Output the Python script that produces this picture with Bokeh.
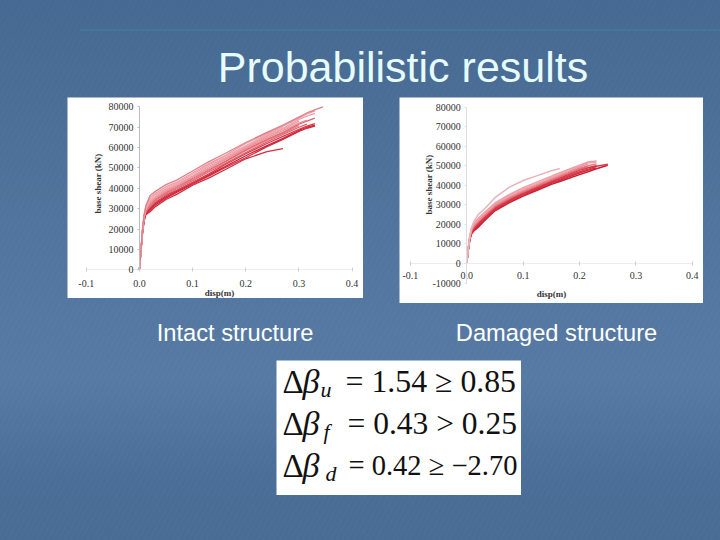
from bokeh.embed import file_html
from bokeh.resources import INLINE
from bokeh.plotting import figure
from bokeh.layouts import column, row, Spacer
from bokeh.models import LinearAxis, FixedTicker, Label, BoxAnnotation, Range1d

slide_title = "Probabilistic results"
caption_left = "Intact structure"
caption_right = "Damaged structure"
x_ticks = [-0.1, 0.0, 0.1, 0.2, 0.3, 0.4]
x_tick_labels = ["-0.1", "0.0", "0.1", "0.2", "0.3", "0.4"]
y_ticks_intact = [0, 10000, 20000, 30000, 40000, 50000, 60000, 70000, 80000]
y_ticks_damaged = [-10000, 0, 10000, 20000, 30000, 40000, 50000, 60000, 70000, 80000]

intact_disp = [0, .003, .006, .009, .012, .02, .03, .05, .07, .1, .13, .16, .2, .24, .27, .3, .315, .33, .345]
intact_curves = [
    [0, 9500, 18500, 24000, 27000, 28500, 31000, 34500, 37000, 41500, 45000, 49000, 54500, 58000, 59500],
    [0, 9500, 18800, 24500, 27500, 29200, 31800, 35200, 38000, 42000, 46000, 50000, 55000, 60500, 64000, 68000, 69500, 70500],
    [0, 9700, 19000, 24800, 28000, 29800, 32500, 35800, 38500, 42500, 46500, 50500, 56000, 61000, 64500, 68500, 70000, 71000],
    [0, 9800, 19200, 25000, 28200, 30500, 33000, 36500, 39000, 43000, 47000, 51500, 57000, 62000, 65500, 69000, 70500, 71800],
    [0, 9800, 19400, 25200, 28500, 31000, 33500, 37000, 39800, 43800, 48000, 52000, 57500, 62800, 66500, 70000, 71500],
    [0, 9900, 19500, 25500, 28800, 31500, 34000, 37500, 40200, 44200, 48500, 52800, 58500, 63500, 67000, 70800],
    [0, 9900, 19600, 25800, 29000, 32000, 34500, 38000, 40800, 44800, 49000, 53000, 59000, 64000, 67500, 71500, 73000, 74500],
    [0, 10000, 19800, 26000, 29300, 32800, 35000, 38500, 41000, 45300, 49500, 53800, 59500, 64800, 68300, 72000, 73500],
    [0, 10000, 20000, 26300, 29500, 33200, 35500, 39000, 41500, 45800, 50000, 54200, 60000, 65500, 69000, 73000],
    [0, 10100, 20200, 26500, 30000, 33800, 36000, 39500, 42000, 46000, 50800, 54800, 60500, 66000, 69500, 73800, 75500, 76800],
    [0, 10200, 20400, 26800, 30300, 34500, 36800, 40000, 42500, 46800, 51500, 55500, 61000, 66500, 70000],
    [0, 10200, 20600, 27000, 30800, 35500, 37500, 40800, 43000, 47500, 52000, 56000, 62000, 67000, 70500, 74500, 76500, 78000],
    [0, 10300, 20800, 27500, 31500, 36500, 38500, 41800, 44000, 48500, 53000, 57000, 62500, 67500, 71000, 75000, 77000, 78500, 80000],
]
intact_colors = ["#d0303f", "#d22a3c", "#c8283a", "#d83a4a", "#e0606c", "#e8808a", "#e06570", "#eb8f98",
                 "#ec969d", "#ee9fa5", "#f0a8ae", "#ec9ca3", "#dd8089"]

damaged_disp = [0, .002, .005, .008, .012, .02, .03, .05, .075, .1, .125, .15, .165, .18, .2, .215, .23, .25]
damaged_curves = [
    [0, 5500, 11500, 15000, 16500, 18500, 21500, 27000, 31000, 34500, 37500, 40500, 42000, 43500, 45500, 47000, 48500, 50300],
    [0, 5600, 11800, 15300, 17000, 19200, 22200, 27500, 31500, 35000, 38000, 41000, 42600, 44200, 46300, 47800, 49000],
    [0, 5700, 12000, 15600, 17500, 19800, 22800, 28000, 32000, 35500, 38500, 41500, 43200, 44800, 47000, 48200, 49800, 50800],
    [0, 5800, 12200, 16000, 18000, 20400, 23300, 28500, 32500, 36000, 39000, 42000, 43800, 45500, 47800, 49000, 50000],
    [0, 5900, 12400, 16300, 18500, 21000, 23800, 29000, 33000, 36500, 39500, 42500, 44200, 46000, 48200, 49500],
    [0, 6000, 12600, 16600, 19000, 21500, 24300, 29500, 33600, 37000, 40000, 43000, 44800, 46500, 48800, 50000, 51000],
    [0, 6000, 12800, 17000, 19500, 22000, 24800, 30000, 34000, 37500, 40500, 43500, 45300, 47000, 49500, 51000],
    [0, 6100, 13000, 17300, 20000, 22500, 25300, 30500, 34600, 38000, 41000, 44000, 45800, 47800, 50000, 51500, 52000],
    [0, 6200, 13300, 17600, 20400, 23000, 25800, 31000, 35200, 38800, 41800, 44700, 46500, 48200, 50300, 52000, 52500],
    [0, 6300, 13500, 18000, 21000, 25000, 27500, 33700, 39000, 42500, 45000, 47500, 48600],
]
damaged_colors = ["#c92032", "#d0283a", "#d83a48", "#d0303f", "#e0606a", "#e5757f", "#eb8f98",
                  "#efa5ab", "#eda0a7", "#e6b4b9"]

formula_delta = "Δ"
formula_beta = "β"
formula_subs = ["u", "f", "d"]
formula_rest = ["= 1.54 ≥ 0.85", "= 0.43 > 0.25", "= 0.42 ≥ −2.70"]


def bare(w, h, x_range=(0, 1), y_range=(0, 1), fill=None):
    f = figure(width=w, height=h, output_backend="svg", toolbar_location=None,
               x_range=Range1d(*x_range), y_range=Range1d(*y_range),
               x_axis_type=None, y_axis_type=None, min_border=0,
               background_fill_color=fill, border_fill_color=None, outline_line_color=None)
    f.grid.visible = False
    return f


def chart(w, h, xr, yr, yticks, disp, curves, colors, xstand, ylabel, ypos, xpos, yline, lw):
    f = bare(w, h, xr, yr, "#ffffff")
    for ys, c in zip(curves, colors):
        f.line(disp[:len(ys)], ys, line_color=c, line_width=lw)
    xa = LinearAxis(fixed_location=0, ticker=FixedTicker(ticks=x_ticks),
                    major_label_overrides=dict(zip(x_ticks, x_tick_labels)),
                    bounds=(x_ticks[0], x_ticks[-1]), axis_line_color="#ececec",
                    major_tick_line_color="#cfcfcf", major_tick_in=2, major_tick_out=2,
                    minor_tick_line_color=None, major_label_standoff=xstand,
                    major_label_text_font="Liberation Serif", major_label_text_font_size="10px",
                    major_label_text_color="#333333")
    ya = LinearAxis(fixed_location=0, ticker=FixedTicker(ticks=yticks),
                    major_label_overrides={t: str(t) for t in yticks},
                    bounds=(yticks[0], yticks[-1]), axis_line_color=yline,
                    major_tick_line_color=yline, major_tick_in=0, major_tick_out=2,
                    minor_tick_line_color=None, major_label_standoff=4,
                    major_label_text_font="Liberation Serif", major_label_text_font_size="10px",
                    major_label_text_color="#333333")
    f.add_layout(xa, "below")
    f.add_layout(ya, "left")
    f.add_layout(Label(x=ypos[0], y=ypos[1], x_units="screen", y_units="screen", text=ylabel, angle=90,
                       angle_units="deg", text_align="center", text_baseline="middle",
                       text_font="Liberation Serif", text_font_style="bold", text_font_size="9px",
                       text_color="#333333"))
    f.add_layout(Label(x=xpos[0], y=xpos[1], x_units="screen", y_units="screen", text="disp(m)",
                       text_align="center", text_baseline="middle", text_font="Liberation Serif",
                       text_font_style="bold", text_font_size="9px", text_color="#333333"))
    return f


title = bare(720, 97)
title.add_layout(BoxAnnotation(left=80, right=720, top=68, bottom=67, left_units="screen", right_units="screen",
                               top_units="screen", bottom_units="screen", fill_color="#3d8a9c",
                               fill_alpha=0.8, line_color=None))
title.add_layout(Label(x=402.5, y=31, x_units="screen", y_units="screen", text=slide_title,
                       text_align="center", text_baseline="middle", text_font="Liberation Sans",
                       text_font_size="43px", text_color="#e6fbfb"))

p1 = chart(296, 201, (-0.1353, 0.4215), (-14100, 84600), y_ticks_intact, intact_disp, intact_curves,
           intact_colors, 8, "base shear (kN)", (30, 115), (152, 6), "#bdbdbd", 1.3)
p2 = chart(304, 206, (-0.1193, 0.4198), (-20460, 84960), y_ticks_damaged, damaged_disp, damaged_curves,
           damaged_colors, 6, "base shear (kN)", (29, 119), (152, 10), "#dddddd", 1.5)

caps = bare(720, 57)
for txt, cx in ((caption_left, 234.5), (caption_right, 556)):
    caps.add_layout(Label(x=cx, y=28, x_units="screen", y_units="screen", text=txt, text_align="center",
                          text_baseline="middle", text_font="Liberation Sans", text_font_size="23.7px",
                          text_color="#ffffff"))

fm = bare(245, 135, fill="#ffffff")
serif = "Liberation Serif"
baselines = [114, 72, 30]
sub_x = [44, 47, 49]
rest_x = [69, 71, 72]
rest_size = ["31.8px", "31.5px", "28.5px"]
for i in range(3):
    by = baselines[i]
    fm.add_layout(Label(x=6, y=by, x_units="screen", y_units="screen", text=formula_delta, text_font=serif,
                        text_font_size="33px", text_color="#111111", text_baseline="alphabetic"))
    fm.add_layout(Label(x=26, y=by, x_units="screen", y_units="screen", text=formula_beta, text_font=serif,
                        text_font_style="italic", text_font_size="34px", text_color="#111111",
                        text_baseline="alphabetic"))
    fm.add_layout(Label(x=sub_x[i], y=by - 8, x_units="screen", y_units="screen", text=formula_subs[i],
                        text_font=serif, text_font_style="italic", text_font_size="22px",
                        text_color="#111111", text_baseline="alphabetic"))
    fm.add_layout(Label(x=rest_x[i], y=by, x_units="screen", y_units="screen", text=formula_rest[i],
                        text_font=serif, text_font_size=rest_size[i], text_color="#111111",
                        text_baseline="alphabetic"))

page = column(
    title,
    row(Spacer(width=67, height=206), p1, Spacer(width=36, height=206), p2, spacing=0),
    caps,
    row(Spacer(width=276, height=135), fm, spacing=0),
    spacing=0,
)

html = file_html(page, INLINE)
style = ("<style>html{min-height:100%;background:"
         "repeating-linear-gradient(118deg,rgba(255,255,255,.014) 0 1px,rgba(255,255,255,0) 1px 5px),"
         "linear-gradient(180deg,#456992 0%,#4a6d96 15%,#52759f 45%,#577aa4 70%,#4b6e98 88%,#496c95 100%);}"
         "body{background:transparent;}</style>")
html = html.replace("</head>", style + "</head>", 1)
open("out.html", "w").write(html)
